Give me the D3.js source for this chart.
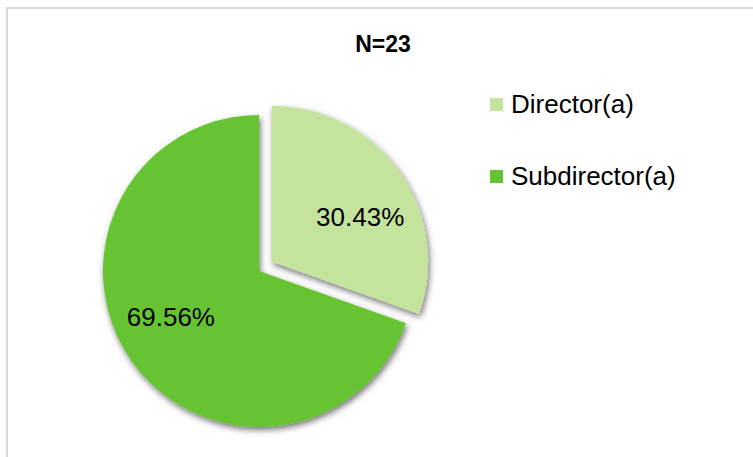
<!DOCTYPE html>
<html>
<head>
<meta charset="utf-8">
<script src="https://cdn.jsdelivr.net/npm/d3@7/dist/d3.min.js"></script>
<style>
  html, body { margin: 0; padding: 0; background: #fff; }
  #container { width: 753px; height: 457px; overflow: hidden; }
  text { font-family: "Liberation Sans", Arial, sans-serif; }
</style>
</head>
<body>
<div id="container"></div>
<script>
// data
const title = "N=23";
const categories = ["Director(a)", "Subdirector(a)"];
const values = [30.43, 69.56];
const colors = ["#c4e39c", "#66c333"];

const width = 753;
const height = 457;

const svg = d3.select("#container")
  .append("svg")
  .attr("width", width)
  .attr("height", height);

// shadow for slices
const defs = svg.append("defs");
const filter = defs.append("filter")
  .attr("id", "shadow")
  .attr("x", "-20%").attr("y", "-20%")
  .attr("width", "140%").attr("height", "140%");
filter.append("feDropShadow")
  .attr("dx", 1.5)
  .attr("dy", 3)
  .attr("stdDeviation", 3)
  .attr("flood-color", "#000")
  .attr("flood-opacity", 0.55);

// chart border (runs off the right and bottom edges)
svg.append("rect")
  .attr("x", 7)
  .attr("y", 8)
  .attr("width", width + 20)
  .attr("height", height + 20)
  .attr("fill", "none")
  .attr("stroke", "#d9d9d9")
  .attr("stroke-width", 2);

// title
svg.append("text")
  .attr("x", 383)
  .attr("y", 52)
  .attr("text-anchor", "middle")
  .style("font-size", "23px")
  .style("font-weight", "bold")
  .text(title);

// pie
const cx = 259, cy = 271, radius = 156;
const explode = 16;
const labelShift = 0.14;

const pie = d3.pie().sort(null).value(d => d)(values);
const arc = d3.arc().innerRadius(0).outerRadius(radius);

const groupPie = svg.append("g")
  .attr("class", "groupPie")
  .attr("transform", `translate(${cx}, ${cy})`);

const slices = groupPie.selectAll("g.slice")
  .data(pie)
  .join("g")
  .attr("class", "slice")
  .attr("transform", (d, i) => {
    if (i !== 0) return null;
    const [ox, oy] = d3.pointRadial((d.startAngle + d.endAngle) / 2, explode);
    return `translate(${ox}, ${oy})`;
  });

slices.append("path")
  .attr("d", arc)
  .attr("fill", (d, i) => colors[i])
  .attr("filter", "url(#shadow)");

slices.append("text")
  .attr("transform", d => {
    const [lx, ly] = d3.pointRadial((d.startAngle + d.endAngle) / 2 + labelShift, radius * 0.635);
    return `translate(${lx}, ${ly})`;
  })
  .attr("text-anchor", "middle")
  .attr("dy", "0.36em")
  .style("font-size", "26px")
  .attr("fill", "#000")
  .text(d => d.value.toFixed(2) + "%");

// legend
const scaleLegend = d3.scalePoint()
  .domain(categories)
  .range([104, 176]);

const groupLegend = svg.append("g")
  .attr("class", "groupLegend");

const items = groupLegend.selectAll("g")
  .data(categories)
  .join("g")
  .attr("transform", d => `translate(490, ${scaleLegend(d)})`);

items.append("rect")
  .attr("x", 0)
  .attr("y", -6)
  .attr("width", 13)
  .attr("height", 13)
  .attr("fill", (d, i) => colors[i]);

items.append("text")
  .attr("x", 21)
  .attr("dy", "0.36em")
  .style("font-size", "26px")
  .attr("fill", "#000")
  .text(d => d);
</script>
</body>
</html>
